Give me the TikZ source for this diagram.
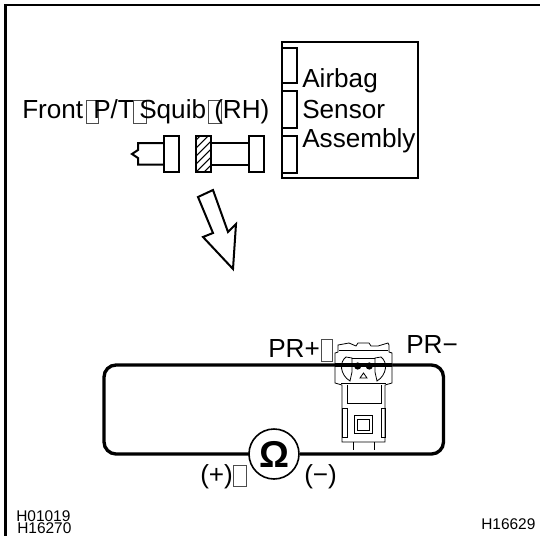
\documentclass[tikz,border=0pt]{standalone}
\usepackage{fontspec}
\setmainfont{Liberation Sans}
\begin{document}
\begin{tikzpicture}[x=0.75pt,y=-0.75pt,
  thinl/.style={draw=black,line width=0.6pt},
  med/.style={draw=black,line width=1.5pt},
  thick2/.style={draw=black,line width=2.5pt},
  lbl/.style={inner sep=0pt,anchor=base west,font=\fontsize{19.6pt}{22pt}\selectfont},
  code/.style={inner sep=0pt,anchor=base west,font=\fontsize{11.6pt}{13pt}\selectfont},
  tofu/.style={draw=black!70,line width=0.4pt,fill=none}]
\useasboundingbox (0,0) rectangle (540,536);
\fill[white] (0,0) rectangle (540,536);
\draw[black,line width=2.2pt] (5.5,536) -- (5.5,5) -- (540,5);
% sensor
\draw[med] (282,42) rectangle (418,178);
\draw[med] (282,47.5) rectangle (297,83);
\draw[med] (282,91) rectangle (297,128);
\draw[med] (282,136) rectangle (297,173);
\node[lbl] (t1) at (302,87) {Airbag};
\node[lbl] (t2) at (302,118) {Sensor};
\node[lbl] (t3) at (302,147) {Assembly};
% label
\node[lbl] (t4) at (22,118) {Front};
\draw[tofu] (86,100) rectangle (98,123);
\node[lbl] (t5) at (93,118) {P/T};
\draw[tofu] (133,100) rectangle (146,123);
\node[lbl] (t6) at (139,118) {Squib};
\draw[tofu] (208,100) rectangle (221,123);
\node[lbl] (t7) at (214,118) {(RH)};
% connectors
\draw[med] (164,143) -- (138,143) -- (138,150) -- (132,154) -- (138,158) -- (138,164.5) -- (164,164.5);
\draw[med] (164,136) rectangle (179,172);
\begin{scope}
\clip (196,136) rectangle (211,172);
\foreach \k in {0,...,6} \draw[thinl,line width=0.8pt] (190,{146+\k*8}) -- (216,{120+\k*8});
\end{scope}
\draw[med] (196,136) rectangle (211,172);
\draw[med] (211,143) -- (249,143);
\draw[med] (211,164.5) -- (249,164.5);
\draw[med] (249,136) rectangle (264,172);
% arrow
\draw[med,line join=miter,fill=white] (198,197) -- (213,190) -- (228,232) -- (236,224) -- (233,269) -- (203,237) -- (213,233) -- cycle;
% circuit
\draw[thick2,rounded corners=9pt] (256,454) -- (104,454) -- (104,365) -- (443.5,365) -- (443.5,454) -- (300,454);
\draw[black,line width=1.2pt,fill=white] (274,454) circle (25);
\node[inner sep=0pt,font=\bfseries\fontsize{28pt}{28pt}\selectfont] (om) at (274,454) {Ω};
\node[lbl] (t8) at (200,483) {(+)};
\draw[tofu] (233,465) rectangle (246,486);
\node[lbl] (t9) at (304,483) {(−)};
\node[lbl] (t10) at (268,357) {PR+};
\draw[tofu] (321,339) rectangle (332,361);
\node[lbl] (t11) at (406,353) {PR−};
% connector part
\draw[thinl,fill=white] (335,383) -- (335,353) -- (338,352) -- (338,345) -- (349,343) -- (356,346) -- (358,343) -- (369,343) -- (371,346) -- (378,346) -- (388,343) -- (389,345) -- (389,352) -- (392,353) -- (392,383) -- (385,385) -- (385,442) -- (375,442) -- (352,442) -- (342,442) -- (342,385) -- cycle;
\draw[thinl] (339,350) -- (388,350);
\draw[thinl] (341,383) -- (386,383);
\draw[thinl] (347,385) -- (347,403) -- (381,403) -- (381,385);
\draw[thinl] (342,408) rectangle (347,437);
\draw[thinl] (381,408) rectangle (385,437);
\draw[thinl] (354,415) rectangle (372,433);
\draw[thinl] (357,419) rectangle (369,430);
\draw[thinl] (346,357) .. controls (339,362) and (340,375) .. (350,381) -- (352,372) -- (352,358) -- cycle;
\draw[thinl] (381,357) .. controls (388,362) and (387,375) .. (377,381) -- (375,372) -- (375,358) -- cycle;
\draw[thinl] (352,358) -- (375,358);
\draw[thinl] (363.5,373) -- (360,378) -- (367,378) -- cycle;
\draw[thick2] (335,365) -- (392,365);
\fill (357.7,366) circle (3.6);
\fill (369.3,366) circle (3.6);
\draw[thinl] (353,442) -- (353,450);
\draw[thinl] (374,442) -- (374,450);
\node[code] (c1) at (16,521) {H01019};
\node[code] (c2) at (17,533) {H16270};
\node[code] (c3) at (481,529) {H16629};
\end{tikzpicture}
\end{document}
